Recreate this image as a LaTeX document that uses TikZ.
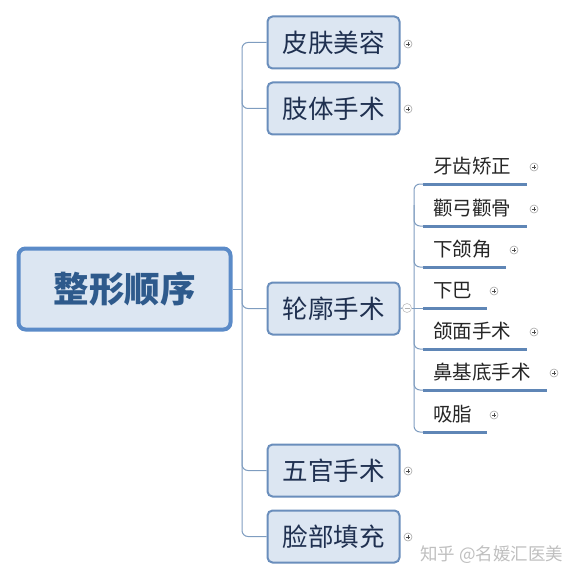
\documentclass[tikz,border=0pt]{standalone}
\usepackage{fontspec}
\setmainfont{Noto Sans CJK SC}
\usetikzlibrary{calc}
\definecolor{boxfill}{HTML}{DCE6F2}
\definecolor{rootline}{HTML}{5B8BC8}
\definecolor{boxline}{HTML}{6A8EBC}
\definecolor{roottext}{HTML}{2E5A8C}
\definecolor{boxtext}{HTML}{1F3050}
\definecolor{linkline}{HTML}{7F9DC0}
\definecolor{barline}{HTML}{5F86B6}
\tikzset{
	rootbox/.style={draw=rootline, fill=boxfill, line width=4pt, rounded corners=7pt, minimum width=212pt, minimum height=81pt, inner sep=0pt, text=roottext, font=\fontsize{35.5}{40}\bfseries\selectfont},
	topic/.style={draw=boxline, fill=boxfill, line width=2pt, rounded corners=5pt, minimum width=132pt, minimum height=52pt, inner sep=0pt, text=boxtext, font=\fontsize{25.5}{30}\selectfont},
	subtopic/.style={anchor=base west, inner sep=0pt, text=black!85, font=\fontsize{19.5}{24}\selectfont},
	conn/.style={draw=linkline, line width=1pt, rounded corners=6pt},
	bar/.style={draw=barline, line width=3pt},
	expand/.style={circle, draw=gray!70, fill=white, line width=0.6pt, minimum size=8pt, inner sep=0pt,
		path picture={\draw[black!70, line width=0.6pt] ([xshift=-2.2pt]path picture bounding box.center) -- ([xshift=2.2pt]path picture bounding box.center) ([yshift=-2.2pt]path picture bounding box.center) -- ([yshift=2.2pt]path picture bounding box.center);}},
	collapse/.style={circle, draw=gray!50, fill=white, line width=0.6pt, minimum size=9pt, inner sep=0pt,
		path picture={\draw[gray!60, line width=0.6pt] ([xshift=-2.5pt]path picture bounding box.center) -- ([xshift=2.5pt]path picture bounding box.center);}}
}
\begin{document}
\begin{tikzpicture}[x=1pt, y=-1pt]
	\useasboundingbox (0,0) rectangle (575,580);
	
	%root and main topics
	\node[rootbox] (root) at (124.5,289) {整形顺序};
	\node[topic] (skin) at (333.5,42.5) {皮肤美容};
	\node[topic] (limb) at (333.5,108.5) {肢体手术};
	\node[topic] (contour) at (333.5,308.5) {轮廓手术};
	\node[topic] (features) at (333.5,470.5) {五官手术};
	\node[topic] (filler) at (333.5,536.5) {脸部填充};
	
	%trunk from the root
	\coordinate (trunk) at (242,289);
	\draw[conn] (root.east) -- (trunk);
	\draw[conn] (skin.west) -| (242,300) |- (filler.west);
	\draw[conn] (242,90) |- (limb.west);
	\draw[conn] (242,290) |- (contour.west);
	\draw[conn] (242,450) |- (features.west);
	
	%expanders of the main topics
	\node[expand] (xskin) at (408,44) {};
	\node[expand] (xlimb) at (408,109) {};
	\node[expand] (xfeatures) at (408,471) {};
	\node[expand] (xfiller) at (408,537) {};
	
	%sub topics of the contour branch
	\begin{scope}
		\foreach \name/\txt/\y/\len/\px in {
			teeth/牙齿矫正/184/527/534,
			zygoma/颧弓颧骨/226/527/534,
			jaw/下颌角/267/506/514,
			chin/下巴/308/487/494,
			face/颌面手术/349/527/534,
			nose/鼻基底手术/390/547/554,
			lipo/吸脂/432/487/494}{
			\coordinate (u\name) at (423,\y);
			\node[subtopic] (\name) at (433,\y-11) {\txt};
			\draw[bar] (u\name) -- (\len,\y);
			\node[expand] (x\name) at (\px,\y-17) {};
		}
		\node[collapse] (xcontour) at (407,308) {};
		\draw[conn] (contour.east) -- (xcontour.west);
		\draw[conn] (xcontour.east) -- (uchin);
		\draw[conn] (uteeth) -| (414,300) |- (ulipo);
		\draw[conn] (414,205) |- (uzygoma);
		\draw[conn] (414,250) |- (ujaw);
		\draw[conn] (414,330) |- (uface);
		\draw[conn] (414,370) |- (unose);
	\end{scope}
	
	%watermark
	\node[anchor=west, inner sep=0pt, text=gray!50, font=\fontsize{17.5}{21}\selectfont] (mark) at (420,555) {知乎 @名媛汇医美};
	
\end{tikzpicture}
\end{document}
